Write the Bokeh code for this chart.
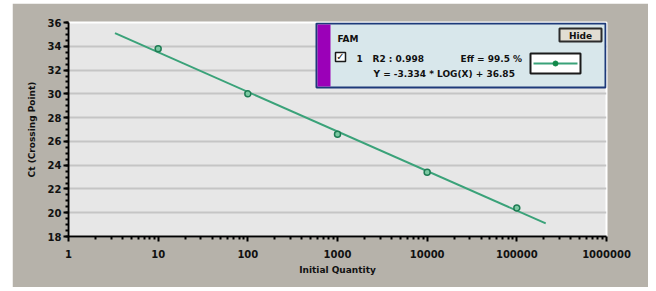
from bokeh.plotting import figure
from bokeh.models import Range1d, FixedTicker, SingleIntervalTicker, BoxAnnotation, Label
from bokeh.embed import file_html
from bokeh.resources import INLINE

# ---- data ----
quantity = [10, 100, 1000, 10000, 100000]
ct_values = [33.8, 30.0, 26.6, 23.4, 20.4]
fit_x = [3.3, 210000]
fit_y = [35.1, 19.1]
x_ticks = [1, 10, 100, 1000, 10000, 100000, 1000000]
x_tick_labels = ["1", "10", "100", "1000", "10000", "100000", "1000000"]
legend_dye = "FAM"
legend_row = "1"
legend_r2 = "R2 : 0.998"
legend_eff = "Eff = 99.5 %"
legend_eq = "Y = -3.334 * LOG(X) + 36.85"

FONT = "DejaVu Sans"
GREEN = "#3aa279"
BG = "#b6b2aa"

# page geometry: gray panel 12..648 x 3..287, frame 68..606 x 22..236
p = figure(width=636, height=284, x_axis_type="log",
           x_range=Range1d(1, 1e6), y_range=Range1d(18, 36),
           output_backend="svg", toolbar_location=None,
           margin=(3, 8, 4, 12),
           min_border_left=56, min_border_right=42,
           min_border_top=19, min_border_bottom=51)
p.border_fill_color = BG
p.background_fill_color = "#e7e7e7"
p.outline_line_color = "white"
p.outline_line_width = 2

FL, FR, FT, FB = 68, 606, 22, 236
def dx(px):
    return 10 ** ((px - FL) / ((FR - FL) / 6))
def dy(py):
    return 36 - (py - FT) * 18 / (FB - FT)

# axes
p.xaxis.ticker = FixedTicker(ticks=x_ticks,
                             minor_ticks=[m * 10 ** k for k in range(6) for m in range(2, 10)])
p.xaxis.major_label_overrides = {t: l for t, l in zip(x_ticks, x_tick_labels)}
p.yaxis.ticker = SingleIntervalTicker(interval=2, num_minor_ticks=4)
for ax in (p.xaxis[0], p.yaxis[0]):
    ax.axis_line_color = "black"
    ax.axis_line_width = 2
    ax.major_tick_line_color = "black"
    ax.major_tick_line_width = 2
    ax.minor_tick_line_color = "black"
    ax.minor_tick_line_width = 2
    ax.major_tick_out = 5
    ax.major_tick_in = 0
    ax.minor_tick_out = 3
    ax.minor_tick_in = 0
    ax.major_label_text_font = FONT
    ax.major_label_text_font_style = "bold"
    ax.major_label_text_font_size = "10px"
    ax.major_label_text_color = "#111111"
    ax.axis_label_text_font = FONT
    ax.axis_label_text_font_style = "bold"
    ax.axis_label_text_font_size = "9px"
    ax.axis_label_text_color = "#111111"
p.xaxis.axis_label = "Initial Quantity"
p.yaxis.axis_label = "Ct (Crossing Point)"
p.xaxis.major_label_standoff = 8
p.xaxis.axis_label_standoff = 4
p.yaxis.major_label_standoff = 2
p.yaxis.axis_label_standoff = 8

p.xgrid.grid_line_color = None
p.ygrid.grid_line_color = "#c5c5c5"
p.ygrid.grid_line_width = 2

def box(l, r, t, b, fill, line=None, lw=2):
    p.add_layout(BoxAnnotation(left=dx(l), right=dx(r), top=dy(t), bottom=dy(b),
                               fill_color=fill, fill_alpha=1,
                               line_color=line, line_alpha=1, line_width=lw,
                               level="underlay"))

# legend panel (underlay so glyphs draw on top)
box(316, 605, 23, 87, "#d8e7eb", "#1d3a7a", 2)
box(317, 330, 24, 86, "#9b00b8")
box(559, 601, 28, 41, "#e2ddd2", "#2b2b2b", 2)      # Hide button
box(530, 580, 53, 73, "white", "#1a1a1a", 2)        # line sample box
box(335, 345, 52, 61, "white", "#1a1a1a", 1.5)      # checkbox

# fit line and points
p.line(fit_x, fit_y, line_color=GREEN, line_width=2)
p.scatter(quantity, ct_values, size=6, marker="circle",
          line_color="#1f7c54", fill_color="#7cc9a3", line_width=1.5)

# legend sample line
p.line([dx(533), dx(577)], [dy(63), dy(63)], line_color=GREEN, line_width=2)
p.scatter([dx(555)], [dy(63)], size=5, marker="circle", line_color="#138a4a", fill_color="#138a4a")

def lab(txt, px, py, size="9px", align="left"):
    p.add_layout(Label(x=dx(px), y=dy(py), text=txt, text_font=FONT,
                       text_font_style="bold", text_font_size=size,
                       text_color="#111111", text_align=align, text_baseline="middle"))

lab(legend_dye, 337, 38)
lab("\u2713", 340, 56, size="10px", align="center")
lab(legend_row, 356, 58)
lab(legend_r2, 372, 58)
lab(legend_eff, 460, 58)
lab(legend_eq, 373, 73)
lab("Hide", 580, 35, size="9px", align="center")

open("out.html", "w").write(file_html(p, INLINE))
